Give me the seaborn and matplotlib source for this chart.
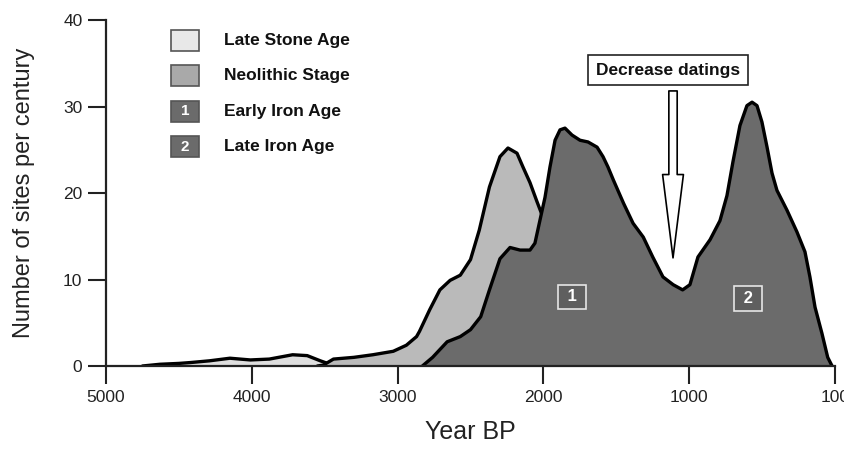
import matplotlib
matplotlib.use("Agg")
import matplotlib.pyplot as plt
from matplotlib.patches import Rectangle
import pandas as pd
import seaborn as sns

# values (Year BP, sites per century)
stone_years = [4750, 4630, 4500, 4420, 4290, 4150, 4010, 3880, 3720, 3620, 3530, 3480, 3450]
stone_sites = [0.0, 0.2, 0.3, 0.4, 0.6, 0.9, 0.7, 0.8, 1.3, 1.2, 0.6, 0.3, 0.0]

neo_years = [3550, 3510, 3440, 3300, 3170, 3030, 2940, 2870, 2850, 2780, 2710, 2640, 2570,
             2500, 2440, 2370, 2298, 2243, 2181, 2140, 2092, 2044, 2010, 1970, 1900, 1800, 1700]
neo_sites = [0.0, 0.1, 0.8, 1.0, 1.3, 1.7, 2.4, 3.4, 4.0, 6.5, 8.8, 9.9, 10.5,
             12.3, 15.7, 20.7, 24.2, 25.2, 24.6, 23.0, 21.2, 19.0, 17.5, 14.0, 10.0, 4.0, 0.0]

iron_years = [2830, 2760, 2660, 2570, 2500, 2430, 2370, 2298, 2229, 2160, 2092, 2058, 2023,
              1989, 1955, 1920, 1886, 1852, 1804, 1749, 1694, 1632, 1591, 1557, 1520, 1450,
              1385, 1315, 1250, 1180, 1110, 1045, 995, 940, 857, 789, 741, 700, 652, 604,
              569, 535, 501, 466, 432, 398, 329, 261, 206, 172, 137, 90, 50, 20]
iron_sites = [0.0, 1.0, 2.8, 3.4, 4.2, 5.7, 8.8, 12.4, 13.7, 13.4, 13.4, 14.2, 16.9,
              19.5, 23.0, 26.1, 27.3, 27.5, 26.7, 26.1, 25.9, 25.3, 24.2, 23.0, 21.5, 18.8,
              16.5, 14.9, 12.6, 10.3, 9.4, 8.8, 9.4, 12.6, 14.6, 16.8, 19.7, 23.6, 27.8, 30.1,
              30.5, 30.1, 28.2, 25.3, 22.3, 20.3, 18.0, 15.5, 13.2, 10.3, 6.8, 3.8, 1.0, 0.0]

legend_labels = ["Late Stone Age", "Neolithic Stage", "Early Iron Age", "Late Iron Age"]
legend_marks = ["", "", "1", "2"]
period_marks = ["1", "2"]
period_pos = [(1804, 8.0), (597, 7.8)]

x_ticks = [5000, 4000, 3000, 2000, 1000, 0]
x_ticklabels = ["5000", "4000", "3000", "2000", "1000", "100"]
y_ticks = [0, 10, 20, 30, 40]

sns.set_style("ticks")
plt.rcParams["font.family"] = ["Liberation Sans", "DejaVu Sans"]

fill_colors = ["#dedede", "#bababa", "#6b6b6b"]
legend_colors = ["#e8e8e8", "#a9a9a9", "#6b6b6b", "#6b6b6b"]

fig = plt.figure(figsize=(8.44, 4.5), dpi=100)
ax = fig.add_axes([106 / 844, 84 / 450, 729 / 844, 346 / 450])

series = [(stone_years, stone_sites), (neo_years, neo_sites), (iron_years, iron_sites)]
for i, (yrs, vals) in enumerate(series):
    df = pd.DataFrame({"year": yrs, "sites": vals})
    ax.fill_between(df["year"], df["sites"], 0, color=fill_colors[i], lw=0, zorder=2 + 2 * i)
    sns.lineplot(data=df, x="year", y="sites", ax=ax, sort=False, color="black",
                 lw=2.4, zorder=3 + 2 * i, solid_joinstyle="round", solid_capstyle="round")

ax.set_xlim(5000, 0)
ax.set_ylim(0, 40)
ax.set_xticks(x_ticks)
ax.set_xticklabels(x_ticklabels)
ax.set_yticks(y_ticks)
sns.despine(ax=ax)
for s in ["left", "bottom"]:
    ax.spines[s].set_linewidth(1.6)
    ax.spines[s].set_color("#222222")
    ax.spines[s].set_zorder(10)
ax.tick_params(axis="both", direction="out", length=13, width=1.5, color="#222222",
               labelsize=12.5, labelcolor="#222222", pad=4)

ax.set_xlabel("Year BP", fontsize=18, color="#222222")
ax.set_ylabel("Number of sites per century", fontsize=17, color="#222222")
ax.xaxis.set_label_coords(0.5, -0.155)
ax.yaxis.set_label_coords(-0.098, 0.5)

# legend drawn by hand so the numbered patches can carry their numbers
leg_y = [0.942, 0.840, 0.736, 0.633]
for lab, mark, col, yy in zip(legend_labels, legend_marks, legend_colors, leg_y):
    ax.add_patch(Rectangle((0.0892, yy - 0.0303), 0.0384, 0.0607, transform=ax.transAxes,
                           fc=col, ec="#555555", lw=1.2, zorder=12))
    if mark:
        ax.text(0.0892 + 0.0192, yy, mark, transform=ax.transAxes, ha="center", va="center",
                color="white", fontsize=11, fontweight="bold", zorder=13)
    ax.text(0.162, yy, lab, transform=ax.transAxes, ha="left", va="center",
            fontsize=12.5, fontweight="bold", color="#111111", zorder=13)

# numbered period labels inside the iron age area
for mark, (px, py) in zip(period_marks, period_pos):
    ax.text(px, py, " " + mark + " ", ha="center", va="center", color="white",
            fontsize=12, fontweight="bold", zorder=20,
            bbox=dict(boxstyle="square,pad=0.28", fc="#5f5f5f", ec="#e6e6e6", lw=1.2))

# decrease datings arrow
ax.annotate("", xy=(1111, 12.5), xytext=(1111, 31.8),
            arrowprops=dict(width=6, headwidth=15, headlength=60, shrink=0,
                            fc="white", ec="black", lw=1.2), zorder=21)
ax.text(1145, 34.2, "Decrease datings", ha="center", va="center", fontsize=12.5,
        fontweight="bold", color="#111111", zorder=22,
        bbox=dict(boxstyle="square,pad=0.45", fc="white", ec="#222222", lw=1.2))

fig.savefig("out.png", dpi=100)
